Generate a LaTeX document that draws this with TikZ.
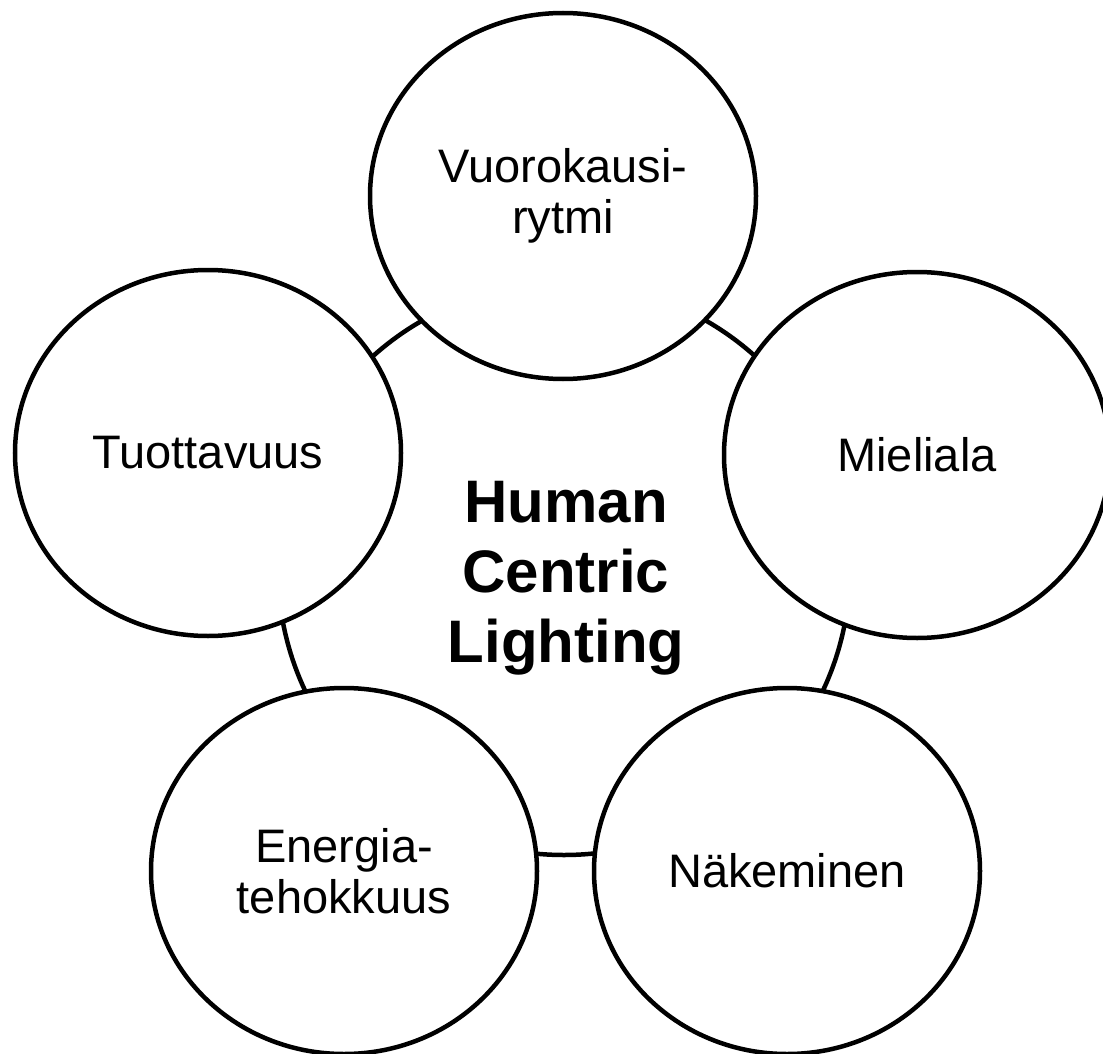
\documentclass[tikz,border=0pt]{standalone}
\usepackage{fontspec}
\setmainfont{Liberation Sans}
\usetikzlibrary{shapes.geometric}
\begin{document}
\begin{tikzpicture}[x=1pt,y=-1pt,
  topic/.style={ellipse,draw=black,fill=white,line width=4.5pt,
    minimum width=386pt,minimum height=366pt,inner sep=0pt,
    align=center,font=\fontsize{47}{51}\selectfont},
  hubtext/.style={align=center,font=\fontsize{60}{70}\selectfont\bfseries},
  ring/.style={draw=black,line width=4.5pt}]
\useasboundingbox (0,0) rectangle (1103,1054);
\coordinate (mid) at (564,569);
\draw[ring] (mid) circle[radius=286pt];
\node[hubtext] (hub) at (566,578) {Human\\Centric\\Lighting};
\node[topic] (vuoro) at (563,196) {Vuorokausi-\\rytmi};
\node[topic] (mieli) at (917,455) {Mieliala};
\node[topic] (tuott) at (208,453) {Tuottavuus};
\node[topic] (energ) at (344,871) {Energia-\\tehokkuus};
\node[topic] (nake) at (787,871) {Näkeminen};
\end{tikzpicture}
\end{document}
